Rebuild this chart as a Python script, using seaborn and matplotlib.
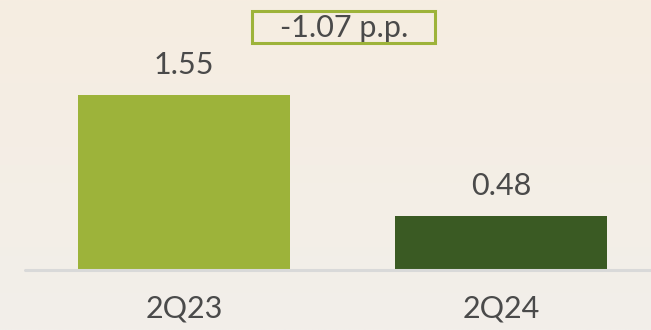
import numpy as np
import matplotlib
matplotlib.use("Agg")
import matplotlib.pyplot as plt
from matplotlib.patches import Rectangle
import seaborn as sns

categories = ["2Q23", "2Q24"]
values = [1.55, 0.48]
bar_colors = ["#9db33a", "#3a5a23"]
delta_label = "-1.07 p.p."

sns.set_theme(style="white")
plt.rcParams["font.family"] = ["Lato", "DejaVu Sans"]
TEXT = "#4a4a4a"
W, H = 651, 330

fig = plt.figure(figsize=(W / 100, H / 100), dpi=100)

# soft cream background gradient
bg = fig.add_axes([0, 0, 1, 1], zorder=0)
top = np.array([0xf6, 0xed, 0xe1]) / 255
bot = np.array([0xf2, 0xef, 0xea]) / 255
t = np.linspace(0, 1, 256)[:, None, None]
grad = np.repeat(top * (1 - t) + bot * t, 4, axis=1)
bg.imshow(grad, aspect="auto", extent=[0, 1, 0, 1])
bg.axis("off")

ax = fig.add_axes([25 / W, 60 / H, 626 / W, 270 / H], zorder=1)
ax.patch.set_alpha(0)
sns.barplot(x=categories, y=values, hue=categories, palette=bar_colors,
            legend=False, width=0.669, saturation=1, linewidth=0, ax=ax)
ax.set_xlim(-0.5016, 1.473)
ax.set_ylim(0, 270 / 112.8)

for i, v in enumerate(values):
    ax.annotate(f"{v:.2f}", (i, v), xytext=(0, 15), textcoords="offset points",
                ha="center", va="baseline", fontsize=22, color=TEXT)

ax.axhline(0, color="#d9d9d9", lw=2.2, clip_on=False)
for s in ax.spines.values():
    s.set_visible(False)
ax.set_yticks([])
ax.set_xlabel("")
ax.set_ylabel("")
ax.tick_params(axis="x", length=0, pad=18, labelsize=22, labelcolor=TEXT)

# change badge
fig.patches.append(Rectangle((252 / W, 1 - 43 / H), 183 / W, 32 / H,
                             transform=fig.transFigure, fill=False,
                             ec="#9db33a", lw=2.2))
fig.text(344 / W, 1 - 37 / H, delta_label, ha="center", va="baseline",
         fontsize=22, color=TEXT)

fig.savefig("out.png", dpi=100)
